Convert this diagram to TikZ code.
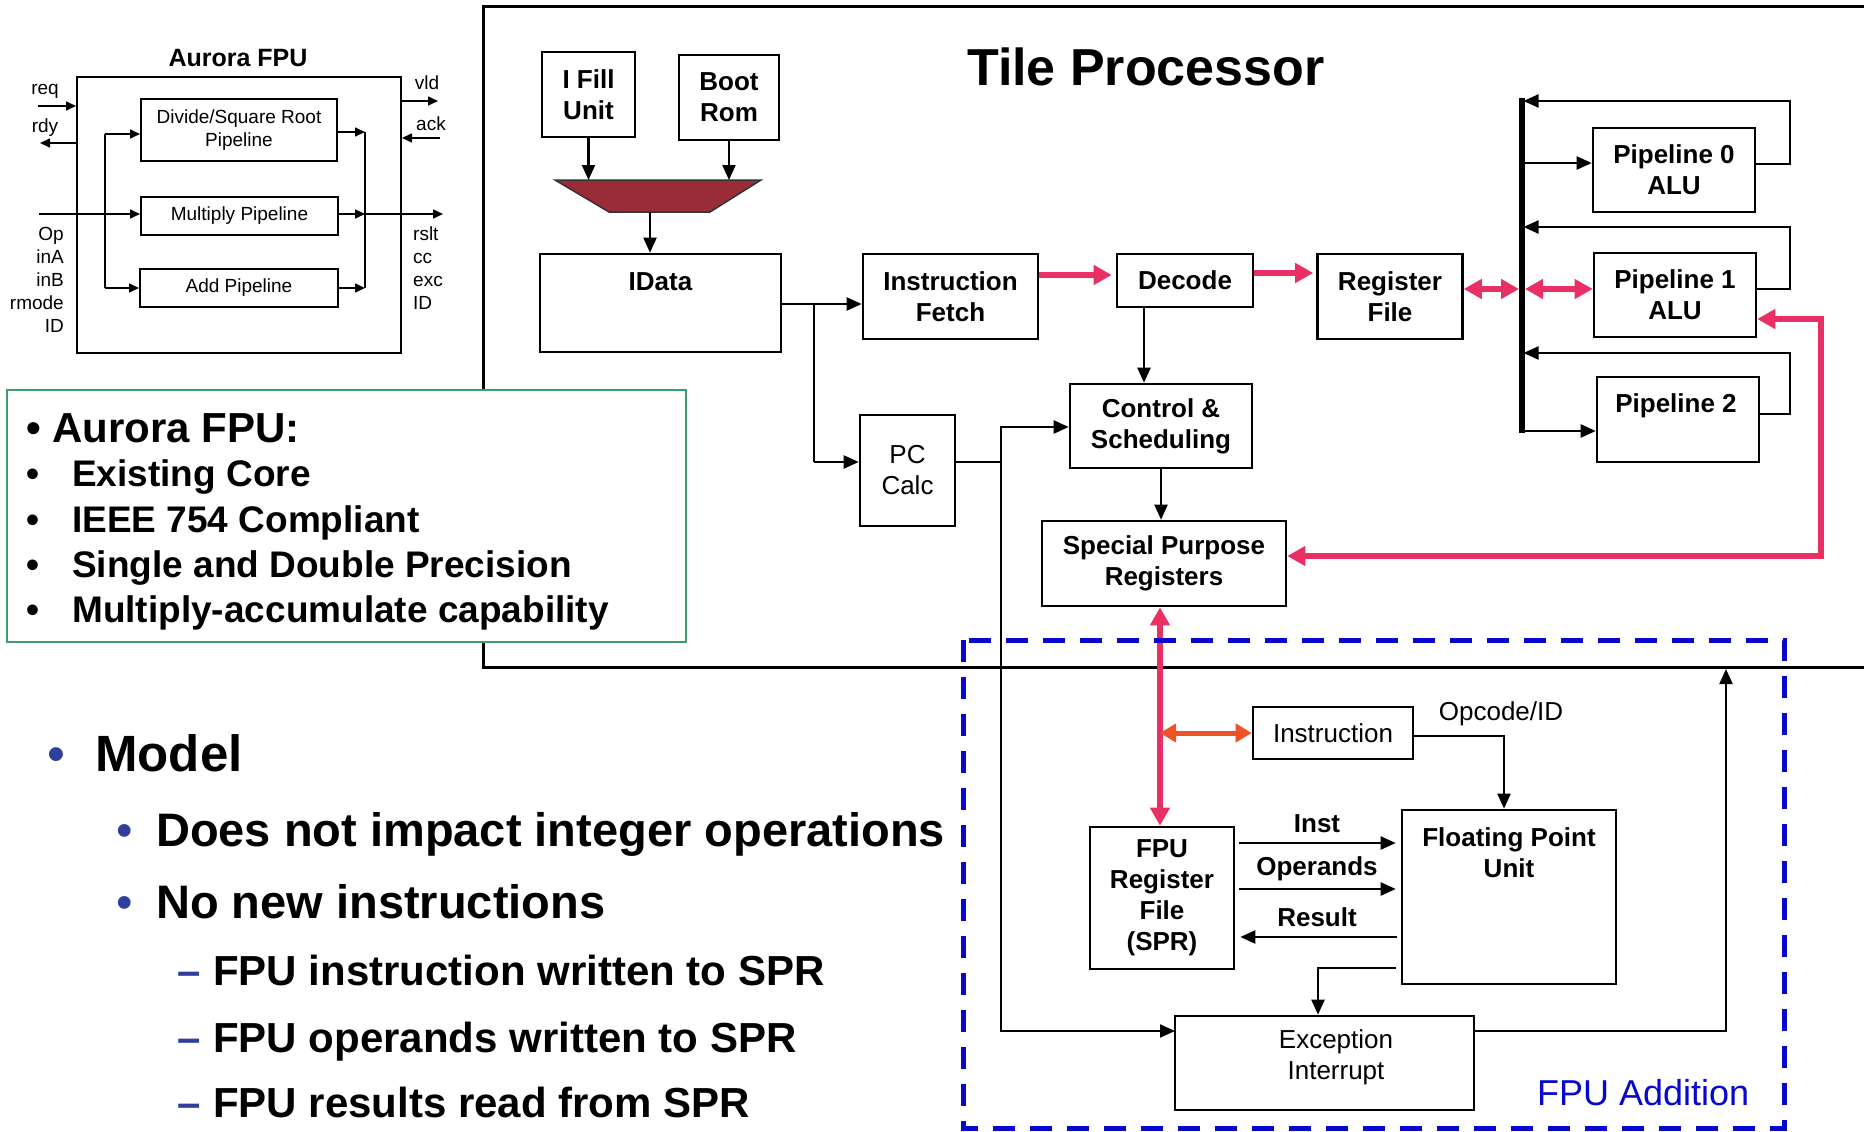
\documentclass[tikz,border=0pt]{standalone}
\usepackage{fontspec}
\setmainfont{Liberation Sans}
\usetikzlibrary{arrows.meta,positioning}

\definecolor{hotpink}{RGB}{232,48,100}
\definecolor{fireorange}{RGB}{236,84,38}
\definecolor{muxred}{RGB}{154,44,56}
\definecolor{addblue}{RGB}{8,8,204}
\definecolor{dotblue}{RGB}{48,62,158}
\definecolor{notegreen}{RGB}{60,154,108}

\newcommand{\blkfont}{\fontsize{26}{31}\selectfont\bfseries}
\newcommand{\regfont}{\fontsize{26}{31}\selectfont}
\newcommand{\sigfont}{\fontsize{19}{23}\selectfont}

\tikzset{
  blk/.style={draw, line width=2.6pt, fill=white, inner sep=0pt, align=center, font=\blkfont},
  sblk/.style={draw, line width=2pt, inner sep=0pt, align=center, font=\sigfont},
  lbl/.style={inner sep=0pt, align=center, font=\blkfont},
  wire/.style={line width=2.2pt},
  arr/.style={wire, -{Triangle[length=15pt,width=13pt]}},
  swire/.style={line width=1.6pt},
  sarr/.style={swire, -{Triangle[length=10pt,width=9pt]}},
  hot/.style={draw=hotpink, line width=5.5pt, line join=miter, -{Triangle[length=18pt,width=19pt]}},
  hotboth/.style={hot, {Triangle[length=18pt,width=19pt]}-{Triangle[length=18pt,width=19pt]}},
  fire/.style={draw=fireorange, line width=5pt, {Triangle[length=16pt,width=18pt]}-{Triangle[length=16pt,width=18pt]}},
  gap/.style={shorten <=4pt, shorten >=5pt},
  sig/.style={inner sep=0pt, font=\sigfont},
  bul/.style={inner sep=0pt, anchor=base},
  txt/.style={inner sep=0pt, anchor=base west},
}

\begin{document}
\begin{tikzpicture}[x=1pt, y=-1pt]
		\useasboundingbox (0,0) rectangle (1864,1132);
		\fill[white] (0,0) rectangle (1864,1132);
		
		%%%%% AURORA FPU CORE %%%%%
		\node[lbl, font=\bfseries\fontsize{25}{30}\selectfont] (fputitle) at (238,58) {Aurora FPU};
		\node[sblk, minimum width=324pt, minimum height=276pt] (fpubox) at (239,215) {};
		\node[sblk, minimum width=196pt, minimum height=62pt] (divsq) at (239,130) {Divide/Square Root\\Pipeline};
		\node[sblk, minimum width=197pt, minimum height=38pt] (mulp) at (239.5,216) {Multiply Pipeline};
		\node[sblk, minimum width=198pt, minimum height=38pt] (addp) at (239,288) {Add Pipeline};
		
		\coordinate (reqin) at (38,106);
		\coordinate (rdyout) at (40,143);
		\coordinate (vldout) at (438,101);
		\coordinate (ackin) at (440,138);
		\coordinate (opin) at (39,214);
		\coordinate (lbustop) at (105,134);
		\coordinate (lbusbot) at (105,288);
		\coordinate (rbustop) at (365,132);
		\coordinate (rbusbot) at (365,288);
		\coordinate (rsltout) at (443,214);
		
		\draw[sarr] (reqin) -- (reqin -| fpubox.west);
		\draw[sarr] (rdyout -| fpubox.west) -- (rdyout);
		\draw[sarr] (vldout -| fpubox.east) -- (vldout);
		\draw[sarr] (ackin) -- (ackin -| fpubox.east);
		\draw[sarr] (opin) -- (opin -| mulp.west);
		\draw[swire] (lbustop) -- (lbusbot);
		\draw[sarr] (lbustop) -- (lbustop -| divsq.west);
		\draw[sarr] (lbusbot) -- (lbusbot -| addp.west);
		\draw[sarr] (rbustop -| divsq.east) -- (rbustop);
		\draw[sarr] (opin -| mulp.east) -- (opin -| rbustop);
		\draw[sarr] (rbusbot -| addp.east) -- (rbusbot);
		\draw[swire] (rbustop) -- (rbusbot);
		\draw[sarr] (opin -| rbustop) -- (rsltout);
		
		\node[sig] (lreq) at (45,91) {req};
		\node[sig] (lrdy) at (45,128) {rdy};
		\node[sig] (lvld) at (427,83) {vld};
		\node[sig] (lack) at (431,124) {ack};
		\node[sig, anchor=north east, align=right] (inlist) at (64,227) {Op\\inA\\inB\\rmode\\ID};
		\node[sig, anchor=north west, align=left] (outlist) at (413,227) {rslt\\cc\\exc\\ID};
		
		%%%%% TILE PROCESSOR %%%%%
		\draw[line width=3pt] (1864,7) -- (483,7) -- (483,667) -- (1864,667);
		\node[txt, font=\bfseries\fontsize{52}{60}\selectfont] (tiletitle) at (967,85) {Tile Processor};
		
		\node[blk, minimum width=93pt, minimum height=85pt] (ifill) at (588.5,94.5) {I Fill\\Unit};
		\node[blk, minimum width=100pt, minimum height=85pt] (bootrom) at (729,97.5) {Boot\\Rom};
		\filldraw[fill=muxred, draw=black!80, line width=1.5pt] (555,180) -- (761,180) -- (710,212) -- (609,212) -- cycle;
		\coordinate (muxtop) at (658,180);
		\coordinate (muxout) at (650,212);
		
		\node[blk, minimum width=241pt, minimum height=98pt] (idata) at (660.5,303) {};
		\node[lbl] (idatalbl) at (660.5,282) {IData};
		\node[blk, minimum width=175pt, minimum height=85pt] (ifetch) at (950.5,296.5) {Instruction\\Fetch};
		\node[blk, font=\regfont, minimum width=95pt, minimum height=111pt] (pccalc) at (907.5,470.5) {PC\\Calc};
		\node[blk, minimum width=136pt, minimum height=53pt] (decode) at (1185,280.5) {Decode};
		\node[blk, minimum width=182pt, minimum height=84pt] (ctrl) at (1161,426) {Control \&\\Scheduling};
		\node[blk, minimum width=244pt, minimum height=85pt] (spr) at (1164,563.5) {Special Purpose\\Registers};
		\node[blk, minimum width=145pt, minimum height=85pt] (regfile) at (1390,296.5) {Register\\File};
		\node[blk, minimum width=162pt, minimum height=84pt] (pipe0) at (1674,170) {Pipeline 0\\ALU};
		\node[blk, minimum width=162pt, minimum height=84pt] (pipe1) at (1675,295) {Pipeline 1\\ALU};
		\node[blk, minimum width=162pt, minimum height=85pt] (pipe2) at (1678,419.5) {};
		\node[lbl] (pipe2lbl) at (1676,406) {Pipeline 2};
		
		\draw[arr] (ifill.south) -- (ifill.south |- muxtop);
		\draw[arr] (bootrom.south) -- (bootrom.south |- muxtop);
		\draw[arr] (muxout) -- (muxout |- idata.north);
		
		\coordinate (fetchsplit) at (814,304);
		\coordinate (pcin) at (814,462);
		\draw[arr] (fetchsplit -| idata.east) -- (fetchsplit -| ifetch.west);
		\draw[wire] (fetchsplit) -- (pcin);
		\draw[arr] (pcin) -- (pcin -| pccalc.west);
		
		\coordinate (pcsplit) at (1001,462);
		\coordinate (ctrlin) at (1001,427);
		\coordinate (excin) at (1001,1031);
		\draw[wire] (pcsplit -| pccalc.east) -- (pcsplit);
		\draw[arr] (pcsplit) -- (ctrlin) -- (ctrlin -| ctrl.west);
		\draw[arr] (pcsplit) -- (excin) -- (excin -| 1175,0);
		
		\draw[arr] ([xshift=-41pt]decode.south) -- ([xshift=-41pt]decode.south |- ctrl.north);
		\draw[arr] (ctrl.south) -- (ctrl.south |- spr.north);
		
		\draw[hot, shorten >=4pt] ([yshift=21.5pt]ifetch.east) -- ([yshift=21.5pt]ifetch.east -| decode.west);
		\draw[hot, shorten >=3pt] ([yshift=7.5pt]decode.east) -- ([yshift=7.5pt]decode.east -| regfile.west);
		
		% result bus and write-back loops
		\coordinate (bustop) at (1521.5,98);
		\coordinate (busbot) at (1521.5,433);
		\coordinate (fb0) at (1790,101);
		\coordinate (p0out) at (1790,164);
		\coordinate (p0in) at (1521.5,163);
		\coordinate (fb1) at (1790,227);
		\coordinate (p1out) at (1790,289);
		\coordinate (fb2) at (1790,353);
		\coordinate (p2out) at (1790,414);
		\coordinate (p2in) at (1521.5,431);
		\draw[arr, shorten >=2pt] (p0out -| pipe0.east) -- (p0out) -- (fb0) -- (fb0 -| bustop);
		\draw[arr, shorten >=2pt] (p1out -| pipe1.east) -- (p1out) -- (fb1) -- (fb1 -| bustop);
		\draw[arr, shorten >=2pt] (p2out -| pipe2.east) -- (p2out) -- (fb2) -- (fb2 -| bustop);
		\draw[arr] (p0in) -- (p0in -| pipe0.west);
		\draw[arr] (p2in) -- (p2in -| pipe2.west);
		\draw[line width=6pt] (bustop) -- (busbot);
		
		\coordinate (rfbus) at (1519,289);
		\coordinate (busp1) at (1525,289);
		\draw[hotboth] (regfile.east |- rfbus) -- (rfbus);
		\draw[hotboth] (busp1) -- (busp1 -| pipe1.west);
		
		\coordinate (hotcornerA) at (1821,319);
		\coordinate (hotcornerB) at (1821,556);
		\draw[hotboth] (hotcornerA -| pipe1.east) -- (hotcornerA) -- (hotcornerB) -- (hotcornerB -| spr.east);
		
		%%%%% FPU ADDITION %%%%%
		\node[blk, font=\regfont, minimum width=160pt, minimum height=52pt] (instr) at (1333,733) {Instruction};
		\node[blk, minimum width=214pt, minimum height=174pt] (fpu) at (1509,897) {};
		\node[lbl] (fpulbl) at (1509,853) {Floating Point\\Unit};
		\node[blk, minimum width=144pt, minimum height=142pt] (fpreg) at (1162,898) {FPU\\Register\\File\\(SPR)};
		\node[blk, minimum width=299pt, minimum height=94pt] (exc) at (1324.5,1063) {};
		\node[lbl, font=\regfont] (exclbl) at (1336,1057) {Exception\\Interrupt};
		
		\draw[hotboth] ([xshift=-4pt]spr.south) -- ([xshift=-4pt]spr.south |- fpreg.north);
		\coordinate (sprtap) at (1160,733);
		\draw[fire] (sprtap) -- (sprtap -| instr.west);
		
		\coordinate (opc) at (1504,736);
		\draw[arr] (opc -| instr.east) -- (opc) -- (opc |- fpu.north);
		\node[lbl, font=\regfont] (opclbl) at (1501,714) {Opcode/ID};
		
		\coordinate (instrow) at (1300,843);
		\coordinate (oprow) at (1300,889);
		\coordinate (resrow) at (1300,937);
		\draw[arr, gap] (instrow -| fpreg.east) -- (instrow -| fpu.west);
		\draw[arr, gap] (oprow -| fpreg.east) -- (oprow -| fpu.west);
		\draw[arr, gap] (resrow -| fpu.west) -- (resrow -| fpreg.east);
		\node[lbl] (instlbl) at (1317,824) {Inst};
		\node[lbl] (oplbl) at (1317,869) {Operands};
		\node[lbl] (reslbl) at (1317,917) {Result};
		
		\coordinate (excdrop) at (1318,968);
		\draw[arr, shorten <=5pt] (excdrop -| fpu.west) -- (excdrop) -- (excdrop |- exc.north);
		\coordinate (excout) at (1726,1031);
		\coordinate (frameup) at (1726,669);
		\draw[arr] (excout -| exc.east) -- (excout) -- (frameup);
		
		\draw[addblue, line width=5pt, dash pattern=on 22pt off 15pt] (963,640) rectangle (1784,1128);
		\node[txt, text=addblue, font=\fontsize{36}{40}\selectfont] (addlbl) at (1537,1105) {FPU Addition};
		
		%%%%% FEATURE NOTE %%%%%
		\node[draw=notegreen, line width=2.5pt, fill=white, minimum width=679pt, minimum height=252pt] (featbox) at (346.5,516) {};
		\node[bul, font=\bfseries\fontsize{42}{50}\selectfont] (fb0dot) at (34,442) {•};
		\node[txt, font=\bfseries\fontsize{42}{50}\selectfont] (feat0) at (52,442) {Aurora FPU:};
		\node[bul, font=\bfseries\fontsize{37}{44}\selectfont] (fb1dot) at (33,486) {•};
		\node[txt, font=\bfseries\fontsize{37}{44}\selectfont] (feat1) at (72,486) {Existing Core};
		\node[bul, font=\bfseries\fontsize{37}{44}\selectfont] (fb2dot) at (33,532) {•};
		\node[txt, font=\bfseries\fontsize{37}{44}\selectfont] (feat2) at (72,532) {IEEE 754 Compliant};
		\node[bul, font=\bfseries\fontsize{37}{44}\selectfont] (fb3dot) at (33,577) {•};
		\node[txt, font=\bfseries\fontsize{37}{44}\selectfont] (feat3) at (72,577) {Single and Double Precision};
		\node[bul, font=\bfseries\fontsize{37}{44}\selectfont] (fb4dot) at (33,622) {•};
		\node[txt, font=\bfseries\fontsize{37}{44}\selectfont] (feat4) at (72,622) {Multiply-accumulate capability};
		
		%%%%% MODEL LIST %%%%%
		\node[bul, text=dotblue, font=\fontsize{51}{60}\selectfont] (mdot) at (56,771) {•};
		\node[txt, font=\bfseries\fontsize{51}{60}\selectfont] (model) at (95,771) {Model};
		\node[bul, text=dotblue, font=\fontsize{47}{56}\selectfont] (m1dot) at (125,846) {•};
		\node[txt, font=\bfseries\fontsize{47}{56}\selectfont] (model1) at (156,846) {Does not impact integer operations};
		\node[bul, text=dotblue, font=\fontsize{47}{56}\selectfont] (m2dot) at (125,918) {•};
		\node[txt, font=\bfseries\fontsize{47}{56}\selectfont] (model2) at (156,918) {No new instructions};
		\node[txt, text=dotblue, font=\bfseries\fontsize{42}{50}\selectfont] (m3dash) at (177,985) {–};
		\node[txt, font=\bfseries\fontsize{42}{50}\selectfont] (model3) at (213,985) {FPU instruction written to SPR};
		\node[txt, text=dotblue, font=\bfseries\fontsize{42}{50}\selectfont] (m4dash) at (177,1052) {–};
		\node[txt, font=\bfseries\fontsize{42}{50}\selectfont] (model4) at (213,1052) {FPU operands written to SPR};
		\node[txt, text=dotblue, font=\bfseries\fontsize{42}{50}\selectfont] (m5dash) at (177,1117) {–};
		\node[txt, font=\bfseries\fontsize{42}{50}\selectfont] (model5) at (213,1117) {FPU results read from SPR};
		%%%%% END %%%%%
	\end{tikzpicture}
\end{document}
